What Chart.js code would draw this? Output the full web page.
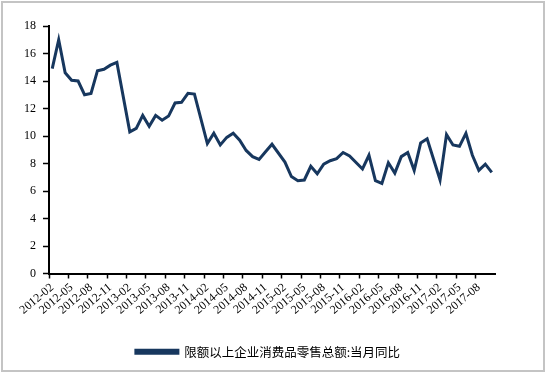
<!DOCTYPE html>
<html>
<head>
<meta charset="utf-8">
<script src="https://cdn.jsdelivr.net/npm/chart.js@4/dist/chart.umd.min.js"></script>
<style>
  html, body { margin: 0; padding: 0; background: #fff; }
  #box {
    position: absolute; left: 1px; top: 1px;
    width: 540px; height: 367px;
    border: 2px solid #c4c4c4; background: #fff;
  }
</style>
</head>
<body>
<div id="box"><canvas id="retailChart"></canvas></div>
<script>
// months 2012-02 .. 2017-10
const months = [];
for (let y = 2012; y <= 2017; y++) {
  for (let m = 1; m <= 12; m++) {
    if (y === 2012 && m < 2) continue;
    if (y === 2017 && m > 10) continue;
    months.push(y + '-' + String(m).padStart(2, '0'));
  }
}

// 限额以上企业消费品零售总额:当月同比 (%), January not published
const retailYoY = [
  14.9, 17.0, 14.6, 14.05, 14.0, 13.0, 13.1, 14.75, 14.85, 15.15, 15.35,
  null, 10.3, 10.55, 11.5, 10.7, 11.5, 11.15, 11.45, 12.4, 12.45, 13.1, 13.05,
  null, 9.45, 10.2, 9.35, 9.9, 10.2, 9.7, 8.95, 8.5, 8.3, 8.85, 9.4,
  null, 8.1, 7.05, 6.75, 6.8, 7.8, 7.25, 7.95, 8.2, 8.35, 8.8, 8.55,
  null, 7.6, 8.6, 6.75, 6.55, 8.05, 7.3, 8.5, 8.8, 7.5, 9.5, 9.8,
  null, 6.8, 10.1, 9.35, 9.25, 10.2, 8.6, 7.5, 7.95, 7.35
];

const yTicks = [0, 2, 4, 6, 8, 10, 12, 14, 16, 18];
const seriesName = '限额以上企业消费品零售总额:当月同比';
const navy = '#17375e';

const every3 = (ctx) => (ctx.index % 3 === 0 ? '#000' : 'rgba(0,0,0,0)');

// nudge the legend a bit right, like the original
const legendShift = {
  id: 'legendShift',
  afterLayout(chart) {
    chart.legend.left += 19;
    chart.legend.right += 19;
  }
};

const chart = new Chart(document.getElementById('retailChart'), {
  type: 'line',
  data: {
    labels: months,
    datasets: [{
      label: seriesName,
      data: retailYoY,
      borderColor: navy,
      backgroundColor: navy,
      borderWidth: 3,
      pointRadius: 0,
      tension: 0,
      spanGaps: true
    }]
  },
  options: {
    responsive: true,
    maintainAspectRatio: false,
    animation: false,
    layout: { padding: { left: 0, right: 48, top: 23, bottom: 2 } },
    scales: {
      x: {
        offset: true,
        grid: {
          offset: true,
          drawOnChartArea: false,
          tickLength: 5,
          tickColor: every3,
          tickWidth: 1.5
        },
        border: { display: true, color: '#000', width: 2 },
        ticks: {
          autoSkip: false,
          minRotation: 40,
          maxRotation: 40,
          padding: 2,
          color: '#000',
          font: { family: 'Liberation Serif', size: 12 },
          callback: (val, i) => (i % 3 === 0 ? months[i] : '')
        },
        afterFit: (scale) => { scale.height = 62; }
      },
      y: {
        min: 0,
        max: 18,
        afterBuildTicks: (scale) => { scale.ticks = yTicks.map(v => ({ value: v })); },
        grid: {
          drawOnChartArea: false,
          tickLength: 6,
          tickColor: '#000',
          tickWidth: 1.5
        },
        border: { display: true, color: '#000', width: 2 },
        ticks: {
          padding: 7,
          color: '#000',
          font: { family: 'Liberation Serif', size: 12 }
        },
        afterFit: (scale) => { scale.width = 46; }
      }
    },
    plugins: {
      legend: {
        position: 'bottom',
        labels: {
          boxWidth: 42,
          boxHeight: 3,
          padding: 10,
          color: '#000',
          font: { family: 'Noto Sans CJK SC', size: 12.5 }
        }
      },
      tooltip: { enabled: false }
    }
  },
  plugins: [legendShift]
});
</script>
</body>
</html>
